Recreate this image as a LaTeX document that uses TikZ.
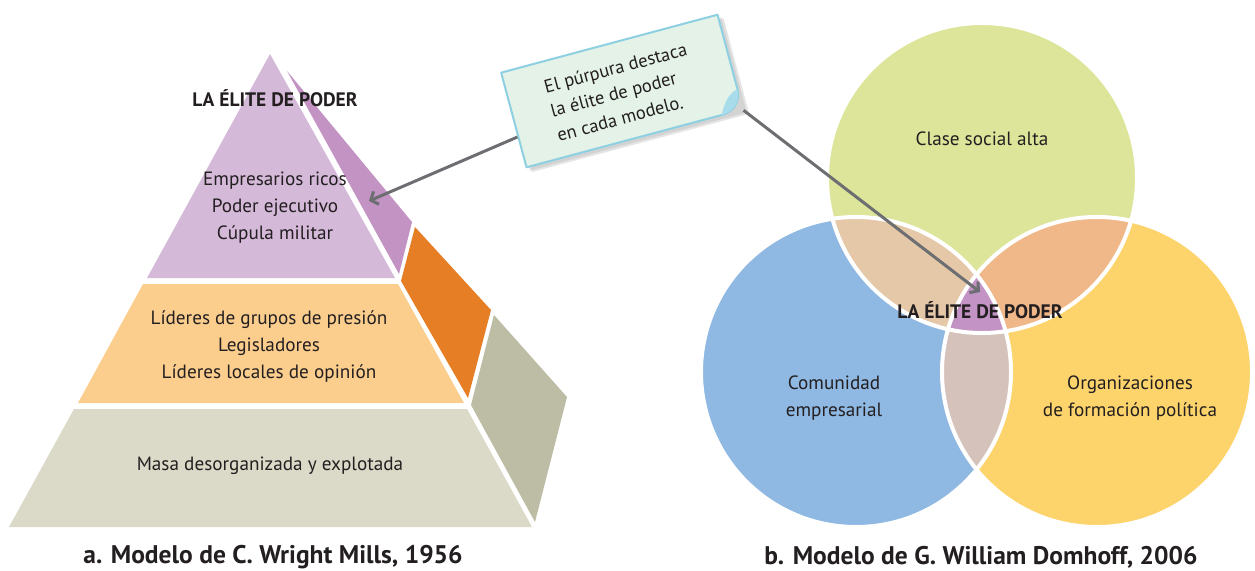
\documentclass[tikz,border=0pt]{standalone}
\usepackage{fontspec}
\setmainfont{PT Sans}
\newfontfamily\capfont{PT Sans}
\usetikzlibrary{arrows.meta}
\definecolor{txt}{HTML}{231F20}
\definecolor{topfront}{HTML}{D5B9D9}
\definecolor{topside}{HTML}{C293C3}
\definecolor{midfront}{HTML}{FBCE8E}
\definecolor{midside}{HTML}{E57E25}
\definecolor{botfront}{HTML}{DBD9C7}
\definecolor{botside}{HTML}{BDBCA4}
\definecolor{cgreen}{HTML}{DCE599}
\definecolor{cblue}{HTML}{8FB8E2}
\definecolor{cyellow}{HTML}{FDD46C}
\definecolor{cgb}{HTML}{E4C8A8}
\definecolor{cgy}{HTML}{F0B888}
\definecolor{cby}{HTML}{D5C3BB}
\definecolor{cpurple}{HTML}{C293C4}
\definecolor{notefill}{HTML}{E4F2E7}
\definecolor{noteborder}{HTML}{8DD0E2}
\definecolor{notefold}{HTML}{A8DCEA}
\definecolor{arrowgray}{HTML}{6D6E71}
\begin{document}
\begin{tikzpicture}[x=1pt,y=-1pt,
  label/.style={text=txt, font=\fontsize{19.2}{27}\selectfont, align=center, inner sep=0pt},
  boldlabel/.style={text=txt, font=\fontsize{19.5}{23}\selectfont\bfseries, inner sep=0pt},
  caption/.style={text=txt, font=\fontsize{25.5}{29}\capfont\bfseries, inner sep=0pt},
  arr/.style={draw=arrowgray, line width=3pt, -{Straight Barb[length=6pt,width=14pt]}},
  ring/.style={draw=white, line width=4pt}]
\useasboundingbox (0,0) rectangle (1255,570);

% ---------- pyramid ----------
\fill[topfront] (270,54) -- (395,278) -- (147,278) -- cycle;
\fill[midfront] (143,284) -- (398,284) -- (464,403) -- (78,403) -- cycle;
\fill[botfront] (74,409) -- (467,409) -- (532,527) -- (9,527) -- cycle;
\fill[topside] (287,71) -- (412,222) -- (399,274) -- cycle;
\fill[midside] (415,227) -- (491,310) -- (468,398) -- (401,281) -- cycle;
\fill[botside] (494,315) -- (567,397) -- (535,522) -- (471,405) -- cycle;

\node[boldlabel] (ptitle) at (275,98) {LA ÉLITE DE PODER};
\node[label] (ptop) at (275,208) {Empresarios ricos\\Poder ejecutivo\\Cúpula militar};
\node[label] (pmid) at (269,347) {Líderes de grupos de presión\\Legisladores\\Líderes locales de opinión};
\node[label] (pbot) at (270,466) {Masa desorganizada y explotada};

% ---------- Venn ----------
\coordinate (G) at (982,178);
\coordinate (B) at (856,372);
\coordinate (Y) at (1097,372);
\fill[cgreen] (G) circle[radius=155pt];
\fill[cblue] (B) circle[radius=155pt];
\fill[cyellow] (Y) circle[radius=155pt];
\begin{scope}
  \clip (G) circle[radius=155pt];
  \fill[cgb] (B) circle[radius=155pt];
  \fill[cgy] (Y) circle[radius=155pt];
\end{scope}
\begin{scope}
  \clip (B) circle[radius=155pt];
  \fill[cby] (Y) circle[radius=155pt];
\end{scope}
\begin{scope}
  \clip (G) circle[radius=155pt];
  \clip (B) circle[radius=155pt];
  \fill[cpurple] (Y) circle[radius=155pt];
\end{scope}
\draw[ring] (G) circle[radius=155pt];
\draw[ring] (B) circle[radius=155pt];
\draw[ring] (Y) circle[radius=155pt];

\node[label] (vtop) at (982,139) {Clase social alta};
\node[boldlabel] (vtitle) at (980,310) {LA ÉLITE DE PODER};
\node[label] (vleft) at (834,398) {Comunidad\\empresarial};
\node[label] (vright) at (1130,398) {Organizaciones\\de formación política};

% ---------- captions ----------
\node[caption] (capa) at (273,557) {a. Modelo de C. Wright Mills, 1956};
\node[caption] (capb) at (981,557) {b. Modelo de G. William Domhoff, 2006};

% ---------- callout ----------
\begin{scope}[shift={(622,91)}, rotate=15]
  \fill[black, opacity=0.10] (-108,-44) -- (117,-44) -- (117,55) -- (-108,55) -- cycle;
  \fill[black, opacity=0.08] (-110,-46) -- (115,-46) -- (115,53) -- (-110,53) -- cycle;
  \filldraw[fill=notefill, draw=noteborder, line width=2pt, line join=round]
    (-112,-49) -- (112,-49) -- (112,28) .. controls (112,40) and (103,49) .. (90,49) -- (-112,49) -- cycle;
  \fill[notefold] (112,28) .. controls (112,40) and (103,49) .. (90,49)
    .. controls (95,40) and (100,31) .. cycle;
\end{scope}
\node[rotate=15, minimum width=225pt, minimum height=98pt, text=txt,
  font=\fontsize{18.5}{25}\selectfont, align=left, inner sep=0pt] (note) at (622,92)
  {El púrpura destaca\\la élite de poder\\en cada modelo.};

\coordinate (t1) at (369,201);
\coordinate (t2) at (980,292);
\draw[arr] (note) -- (t1);
\draw[arr] (note.south east) -- (t2);
\end{tikzpicture}
\end{document}
